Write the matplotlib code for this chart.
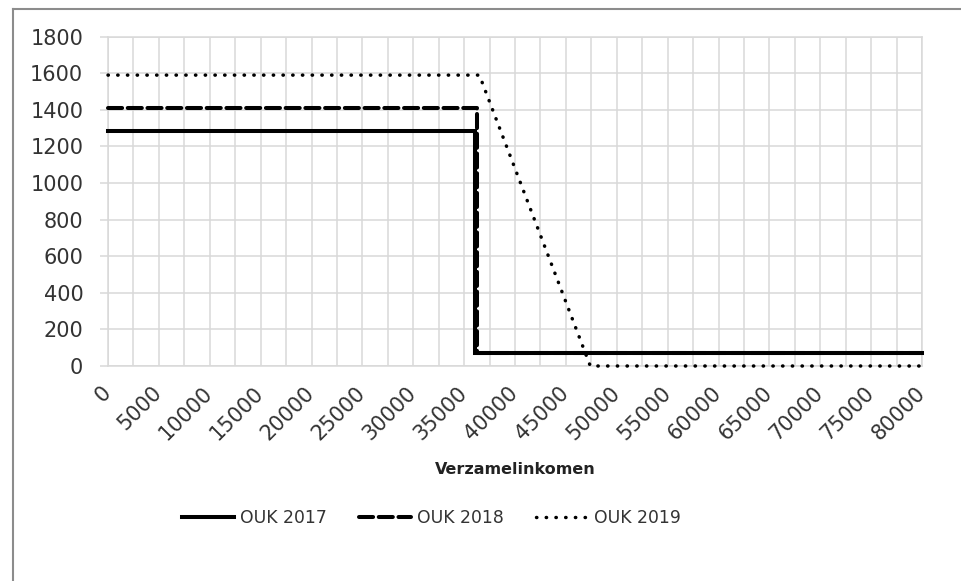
import numpy as np
import matplotlib.pyplot as plt
from matplotlib.lines import Line2D
from matplotlib.ticker import MultipleLocator
import matplotlib.transforms as mtransforms

plt.rcParams['font.family'] = ['DejaVu Sans']

# data
income_2017 = [0, 36100, 36100, 80000]
ouk_2017 = [1287, 1287, 70, 70]
income_2018 = [0, 36300, 36300, 80000]
ouk_2018 = [1410, 1410, 70, 70]
income_2019 = [0, 36500, 47400, 80000]
ouk_2019 = [1590, 1590, 0, 0]
labels = ["OUK 2017", "OUK 2018", "OUK 2019"]

W, H = 961, 581
fig = plt.figure(figsize=(W / 100, H / 100), dpi=100)
ax = fig.add_axes([108 / W, 1 - 366 / H, (922 - 108) / W, (366 - 36.7) / H])

grid_c = '#d9d9d9'
ax.plot(income_2017, ouk_2017, color='black', lw=2.9, solid_joinstyle='miter',
        clip_on=False, label=labels[0], zorder=3)
ax.plot(income_2018, ouk_2018, color='black', lw=2.9, linestyle=(0, (3.5, 1.4)),
        dash_capstyle='round', clip_on=False, label=labels[1], zorder=3)
ax.plot(income_2019, ouk_2019, color='black', lw=2.5, linestyle=(0, (0.1, 2.7)),
        dash_capstyle='round', clip_on=False, label=labels[2], zorder=3)

ax.set_xlim(0, 80000)
ax.set_ylim(0, 1800)
ax.xaxis.set_major_locator(MultipleLocator(5000))
ax.xaxis.set_minor_locator(MultipleLocator(2500))
ax.yaxis.set_major_locator(MultipleLocator(200))
ax.grid(True, which='both', axis='x', color=grid_c, lw=1.1)
ax.grid(True, which='major', axis='y', color=grid_c, lw=1.1)
ax.set_axisbelow(True)
for s in ax.spines.values():
    s.set_color(grid_c)
    s.set_linewidth(1.1)

ax.tick_params(axis='x', which='both', length=0, labelsize=15, colors='#333333', pad=12)
ax.tick_params(axis='y', length=5.8, width=1.1, color=grid_c, labelsize=15,
               labelcolor='#333333', pad=12)
offset = mtransforms.ScaledTranslation(7 / 100, 0, fig.dpi_scale_trans)
for lab in ax.get_xticklabels():
    lab.set_rotation(45)
    lab.set_ha('right')
    lab.set_va('top')
    lab.set_transform(lab.get_transform() + offset)

ax.set_xlabel("Verzamelinkomen", fontsize=11.5, fontweight='bold', color='#222222', labelpad=13)

fig.legend(loc='center', bbox_to_anchor=(0.449, 1 - 518 / H), ncol=3, frameon=False,
           fontsize=12.4, handlelength=3.0, handletextpad=0.35, columnspacing=1.9,
           labelcolor='#333333')

# chart area border (only top and left visible)
fig.add_artist(Line2D([12.5 / W, 12.5 / W], [0, 1 - 8.5 / H], color='#8c8c8c', lw=1.5))
fig.add_artist(Line2D([12.5 / W, 1], [1 - 8.5 / H, 1 - 8.5 / H], color='#8c8c8c', lw=1.5))

fig.savefig('out.png', dpi=100)
